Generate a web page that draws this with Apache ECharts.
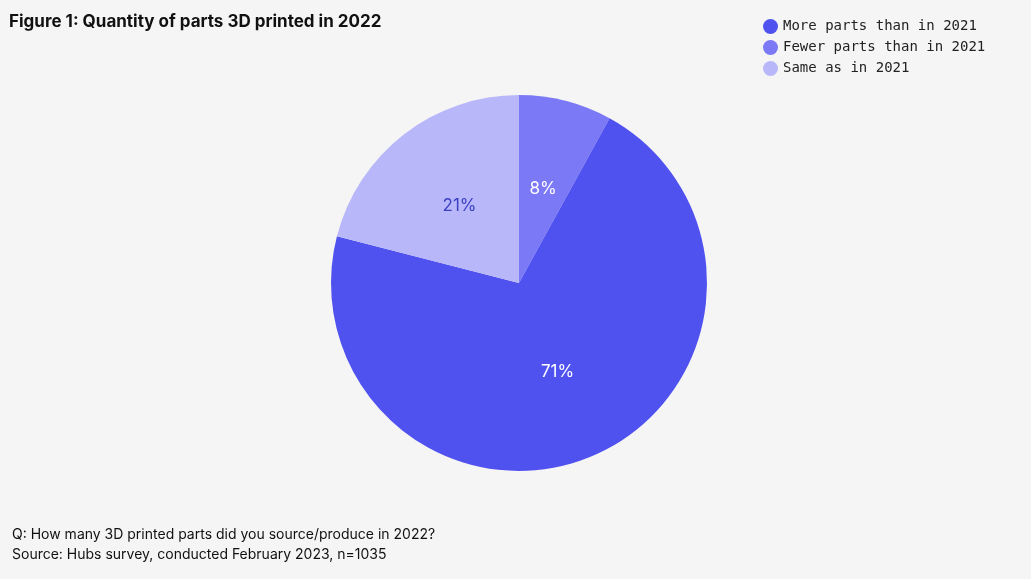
<!DOCTYPE html>
<html>
<head>
<meta charset="utf-8">
<script src="https://cdn.jsdelivr.net/npm/echarts@6/dist/echarts.min.js"></script>
<style>
  html, body { margin: 0; padding: 0; background: #f5f5f5; }
  #chart { width: 1031px; height: 579px; }
</style>
</head>
<body>
<div id="chart"></div>
<script>
// slice order is clockwise from 12 o'clock
var categories = ['Fewer parts than in 2021', 'More parts than in 2021', 'Same as in 2021'];
var shares = [8, 71, 21];
var sliceColors = ['#7b79f6', '#5052f0', '#b8b7fa'];
var labelColors = ['#ffffff', '#ffffff', '#3c3fc0'];
var legendOrder = ['More parts than in 2021', 'Fewer parts than in 2021', 'Same as in 2021'];

var chart = echarts.init(document.getElementById('chart'));

var pieData = categories.map(function (name, i) {
    return {
        name: name,
        value: shares[i],
        itemStyle: { color: sliceColors[i] },
        label: { color: labelColors[i] }
    };
});

chart.setOption({
    backgroundColor: '#f5f5f5',
    animation: false,
    title: {
        text: 'Figure 1: Quantity of parts 3D printed in 2022',
        left: 4,
        top: 8,
        textStyle: { fontFamily: 'Inter', fontSize: 17, fontWeight: 'bold', color: '#111' }
    },
    legend: {
        data: legendOrder,
        orient: 'vertical',
        left: 758,
        top: 14,
        itemGap: 6,
        icon: 'circle',
        itemWidth: 15,
        itemHeight: 15,
        textStyle: { fontFamily: 'DejaVu Sans Mono', fontSize: 14, color: '#222' }
    },
    graphic: [
        {
            type: 'text', left: 12, top: 528,
            style: { text: 'Q: How many 3D printed parts did you source/produce in 2022?', font: '14px Inter', fill: '#111' }
        },
        {
            type: 'text', left: 12, top: 548,
            style: { text: 'Source: Hubs survey, conducted February 2023, n=1035', font: '14px Inter', fill: '#111' }
        }
    ],
    series: [{
        type: 'pie',
        center: [519, 283],
        radius: 188,
        startAngle: 90,
        clockwise: true,
        label: {
            position: 'inside',
            formatter: '{c}%',
            fontFamily: 'Inter',
            fontSize: 17
        },
        labelLine: { show: false },
        itemStyle: { borderWidth: 0 },
        emphasis: { disabled: true },
        data: pieData
    }]
});
</script>
</body>
</html>
